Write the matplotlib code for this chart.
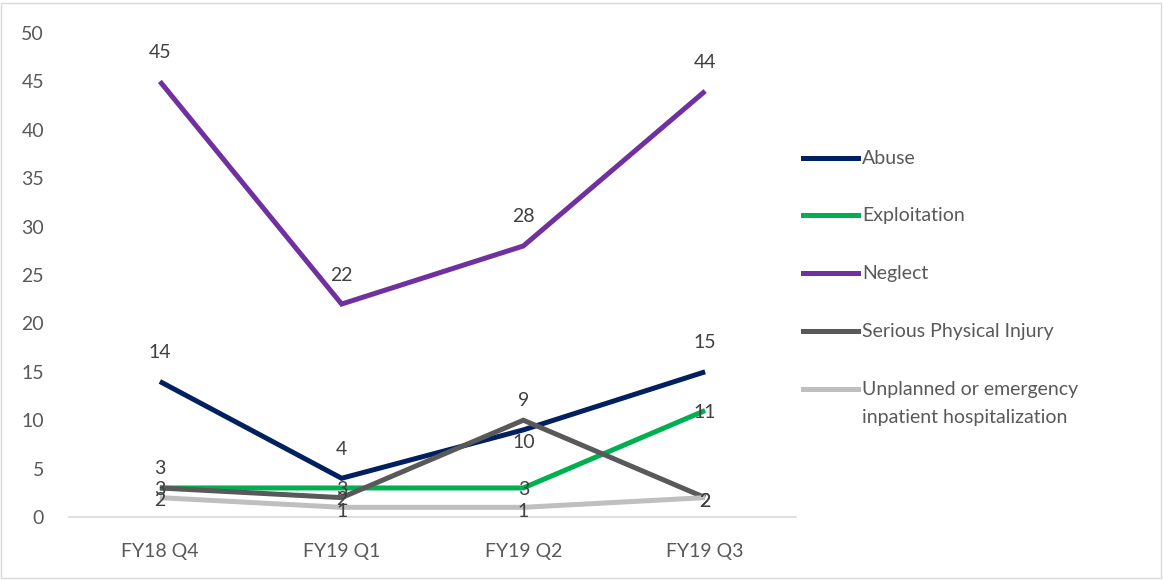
import matplotlib.pyplot as plt
from matplotlib.lines import Line2D
from matplotlib.patches import Rectangle

quarters = ['FY18 Q4', 'FY19 Q1', 'FY19 Q2', 'FY19 Q3']
abuse = [14, 4, 9, 15]
exploitation = [3, 3, 3, 11]
neglect = [45, 22, 28, 44]
injury = [3, 2, 10, 2]
hospitalization = [2, 1, 1, 2]

series = [
    ('Abuse', abuse, '#002060', [29, 29, 29, 29]),
    ('Exploitation', exploitation, '#00B050', [19, -2, -2, -2]),
    ('Neglect', neglect, '#7030A0', [29, 29, 29, 29]),
    ('Serious Physical Injury', injury, '#595959', [-2, -2, -22, -4]),
    ('Unplanned or emergency\ninpatient hospitalization', hospitalization, '#BFBFBF', [-3, -4, -4, -4]),
]

plt.rcParams['font.family'] = ['Lato', 'DejaVu Sans']
W, H = 1163, 580
fig = plt.figure(figsize=(W / 100, H / 100), dpi=100)
fig.add_artist(Rectangle((1 / W, 2 / H), 1 - 3 / W, 1 - 5 / H, transform=fig.transFigure,
                         fill=False, edgecolor='#D9D9D9', linewidth=1))

ax = fig.add_axes([69 / W, 1 - 517 / H, (796 - 69) / W, (517 - 33) / H])
x = list(range(len(quarters)))
for name, vals, color, offs in series:
    ax.plot(x, vals, color=color, linewidth=3.6, solid_joinstyle='miter', solid_capstyle='butt')
for name, vals, color, offs in series:
    for xi, v, dy in zip(x, vals, offs):
        ax.annotate(str(v), (xi, v), xytext=(0, dy * 0.72), textcoords='offset points',
                    ha='center', va='center', fontsize=14, color='#404040')

ax.set_xlim(-0.5, 3.5)
ax.set_ylim(0, 50)
ax.set_yticks(range(0, 51, 5))
ax.set_xticks(x)
ax.set_xticklabels(quarters)
for s in ['top', 'right', 'left']:
    ax.spines[s].set_visible(False)
ax.spines['bottom'].set_color('#D9D9D9')
ax.spines['bottom'].set_linewidth(1.2)
ax.tick_params(axis='both', length=0, labelsize=14, labelcolor='#595959')
ax.tick_params(axis='y', pad=18)
ax.tick_params(axis='x', pad=19)

# legend drawn by hand so the two-line entry lines up with its first line
leg_y = [158, 215, 273, 331, 389]
for (name, vals, color, offs), yy in zip(series, leg_y):
    fy = 1 - yy / H
    fig.add_artist(Line2D([803 / W, 858 / W], [fy, fy], transform=fig.transFigure,
                          color=color, linewidth=3.6))
    fig.text(862 / W, 1 - (yy - 8) / H, name, fontsize=14, color='#595959',
             ha='left', va='top', linespacing=1.75)

fig.savefig('out.png', dpi=100)
